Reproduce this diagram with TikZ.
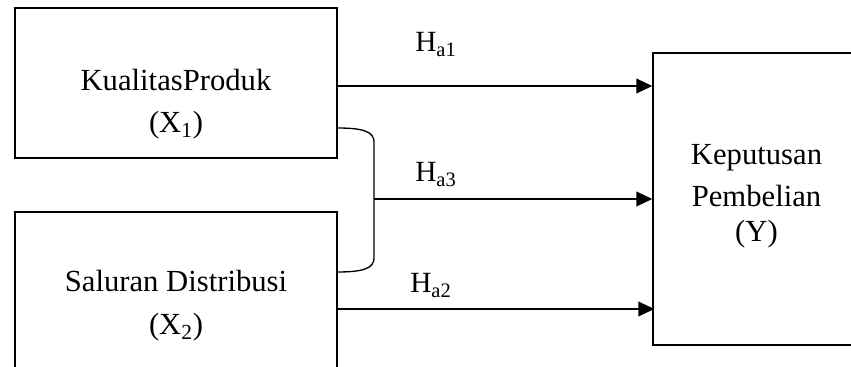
\documentclass[tikz,border=0pt]{standalone}
\usepackage{fontspec}
\setmainfont{Liberation Serif}
\usetikzlibrary{arrows.meta}
\tikzset{
  box/.style={draw, line width=1pt, inner sep=0pt},
  lbl/.style={anchor=base, inner sep=0pt, font=\fontsize{23}{27}\selectfont},
  hyp/.style={anchor=base west, inner sep=0pt, font=\fontsize{22}{26}\selectfont},
  arr/.style={line width=1.3pt, -{Triangle[length=12pt,width=11pt]}},
  bracketline/.style={line width=1pt}
}
\begin{document}
\begin{tikzpicture}[x=0.75pt,y=-0.75pt]
\useasboundingbox (0,0) rectangle (851,367);
\clip (0,0) rectangle (851,367);

% boxes
\node[box, minimum width=241.5pt, minimum height=112.5pt] (x1) at (176,83) {};
\node[box, minimum width=241.5pt, minimum height=127.5pt] (x2) at (176,297) {};
\node[box, minimum width=155.25pt, minimum height=219pt] (y) at (756.5,199) {};

% box texts
\node[lbl] (x1a) at (176,90.5) {KualitasProduk};
\node[lbl] (x1b) at (176,133) {(X\textsubscript{1})};
\node[lbl] (x2a) at (176,291.5) {Saluran Distribusi};
\node[lbl] (x2b) at (176,335) {(X\textsubscript{2})};
\node[lbl] (ya) at (756.5,165) {Keputusan};
\node[lbl] (yb) at (756.5,207) {Pembelian};
\node[lbl] (yc) at (756.5,242) {(Y)};

% bracket joining both predictors
\coordinate (j1) at (x1.east |- 0,128);
\coordinate (j2) at (x2.east |- 0,272);
\coordinate (jm) at (374,199);
\draw[bracketline] (j1) .. controls (364,128) and (374,132) .. (374,142)
  -- (374,258) .. controls (374,268) and (364,272) .. (j2);

% hypothesis arrows
\coordinate (s1) at (x1.east |- 0,86);
\coordinate (s2) at (x2.east |- 0,309);
\draw[arr] (s1) -- (s1 -| y.west);
\draw[arr] (jm) -- (jm -| y.west);
\draw[arr] (s2) -- ([xshift=1.5pt]s2 -| y.west);

% hypothesis labels
\node[hyp] (h1) at (415,52) {H\textsubscript{a1}};
\node[hyp] (h3) at (415,182) {H\textsubscript{a3}};
\node[hyp] (h2) at (410,293) {H\textsubscript{a2}};
\end{tikzpicture}
\end{document}
